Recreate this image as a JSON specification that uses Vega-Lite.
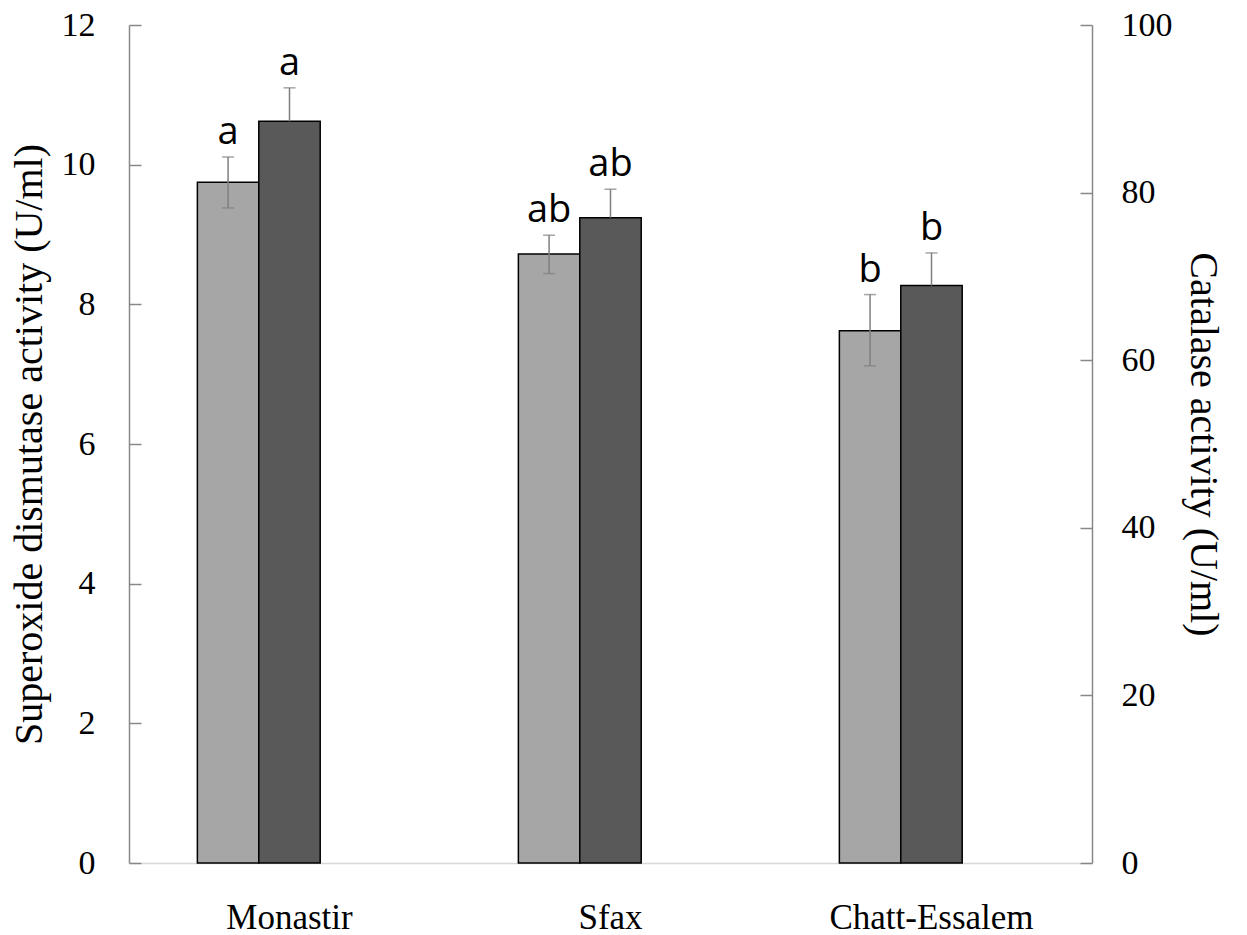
{
  "$schema": "https://vega.github.io/schema/vega-lite/v6.json",
  "width": 963,
  "height": 838,
  "autosize": {"type": "none"},
  "padding": {"left": 129, "top": 25, "right": 155, "bottom": 72},
  "background": "white",
  "config": {"view": {"stroke": null}, "font": "Liberation Serif"},
  "data": {"values": [
    {"site": "Monastir", "enzyme": "SOD", "mean": 9.75, "lo": 9.38, "hi": 10.11, "letter": "a"},
    {"site": "Sfax", "enzyme": "SOD", "mean": 8.72, "lo": 8.44, "hi": 8.99, "letter": "ab"},
    {"site": "Chatt-Essalem", "enzyme": "SOD", "mean": 7.62, "lo": 7.12, "hi": 8.14, "letter": "b"},
    {"site": "Monastir", "enzyme": "CAT", "mean": 88.5, "lo": 84.5, "hi": 92.5, "letter": "a"},
    {"site": "Sfax", "enzyme": "CAT", "mean": 77.0, "lo": 73.6, "hi": 80.4, "letter": "ab"},
    {"site": "Chatt-Essalem", "enzyme": "CAT", "mean": 68.9, "lo": 65.0, "hi": 72.8, "letter": "b"}
  ]},
  "encoding": {
    "x": {
      "field": "site", "type": "nominal",
      "sort": ["Monastir", "Sfax", "Chatt-Essalem"],
      "scale": {"domain": ["Monastir", "Sfax", "Chatt-Essalem"], "paddingInner": 0.426, "paddingOuter": 0.213},
      "axis": {
        "title": null, "ticks": false, "labelAngle": 0, "labelLimit": 0,
        "labelFont": "Liberation Serif", "labelFontSize": 35, "labelColor": "black",
        "labelBaseline": "alphabetic", "labelPadding": 65,
        "domainColor": "#d9d9d9", "domainWidth": 1.5
      }
    },
    "xOffset": {
      "field": "enzyme", "type": "nominal",
      "scale": {"domain": ["SOD", "CAT", "blank"], "paddingInner": 0, "paddingOuter": 0}
    }
  },
  "layer": [
    {
      "transform": [{"filter": "datum.enzyme === 'SOD'"}],
      "layer": [
        {
          "mark": {"type": "bar", "color": "#a6a6a6", "stroke": "black", "strokeWidth": 1.5},
          "encoding": {
            "y": {
              "field": "mean", "type": "quantitative",
              "title": "Superoxide dismutase activity (U/ml)",
              "scale": {"domain": [0, 12], "nice": false},
              "axis": {
                "orient": "left", "format": "d",
                "values": [0, 2, 4, 6, 8, 10, 12], "grid": false,
                "tickSize": -12, "labelPadding": 46, "tickColor": "#888888", "tickWidth": 1.5,
                "domainColor": "#888888", "domainWidth": 1.5,
                "labelFont": "Liberation Serif", "labelFontSize": 34, "labelColor": "black",
                "titleFont": "Liberation Serif", "titleFontSize": 40, "titleFontWeight": "normal",
                "titleColor": "black", "titlePadding": 12
              }
            }
          }
        },
        {
          "mark": {"type": "rule", "color": "#7f7f7f", "strokeWidth": 1.5},
          "encoding": {
            "y": {"field": "lo", "type": "quantitative", "title": "Superoxide dismutase activity (U/ml)"},
            "y2": {"field": "hi"}
          }
        },
        {
          "mark": {"type": "tick", "color": "#7f7f7f", "size": 12, "thickness": 1.5, "orient": "horizontal"},
          "encoding": {"y": {"field": "hi", "type": "quantitative", "title": "Superoxide dismutase activity (U/ml)"}}
        },
        {
          "mark": {"type": "tick", "color": "#7f7f7f", "size": 12, "thickness": 1.5, "orient": "horizontal"},
          "encoding": {"y": {"field": "lo", "type": "quantitative", "title": "Superoxide dismutase activity (U/ml)"}}
        },
        {
          "mark": {"type": "text", "font": "Open Sans", "fontSize": 38, "color": "black", "baseline": "alphabetic", "dy": -13},
          "encoding": {
            "y": {"field": "hi", "type": "quantitative", "title": "Superoxide dismutase activity (U/ml)"},
            "text": {"field": "letter"}
          }
        }
      ]
    },
    {
      "transform": [{"filter": "datum.enzyme === 'CAT'"}],
      "layer": [
        {
          "mark": {"type": "bar", "color": "#595959", "stroke": "black", "strokeWidth": 1.5},
          "encoding": {
            "y": {
              "field": "mean", "type": "quantitative",
              "title": "Catalase activity (U/ml)",
              "scale": {"domain": [0, 100], "nice": false},
              "axis": {
                "orient": "right", "format": "d",
                "values": [0, 20, 40, 60, 80, 100], "grid": false,
                "tickSize": -12, "labelPadding": 41, "tickColor": "#888888", "tickWidth": 1.5,
                "domainColor": "#888888", "domainWidth": 1.5,
                "labelFont": "Liberation Serif", "labelFontSize": 34, "labelColor": "black",
                "titleFont": "Liberation Serif", "titleFontSize": 40, "titleFontWeight": "normal",
                "titleColor": "black", "titlePadding": 10
              }
            }
          }
        },
        {
          "mark": {"type": "rule", "color": "#7f7f7f", "strokeWidth": 1.5},
          "encoding": {
            "y": {"field": "mean", "type": "quantitative", "title": "Catalase activity (U/ml)"},
            "y2": {"field": "hi"}
          }
        },
        {
          "mark": {"type": "tick", "color": "#7f7f7f", "size": 12, "thickness": 1.5, "orient": "horizontal"},
          "encoding": {"y": {"field": "hi", "type": "quantitative", "title": "Catalase activity (U/ml)"}}
        },
        {
          "mark": {"type": "text", "font": "Open Sans", "fontSize": 38, "color": "black", "baseline": "alphabetic", "dy": -13},
          "encoding": {
            "y": {"field": "hi", "type": "quantitative", "title": "Catalase activity (U/ml)"},
            "text": {"field": "letter"}
          }
        }
      ]
    }
  ],
  "resolve": {"scale": {"y": "independent"}, "axis": {"y": "independent"}}
}
